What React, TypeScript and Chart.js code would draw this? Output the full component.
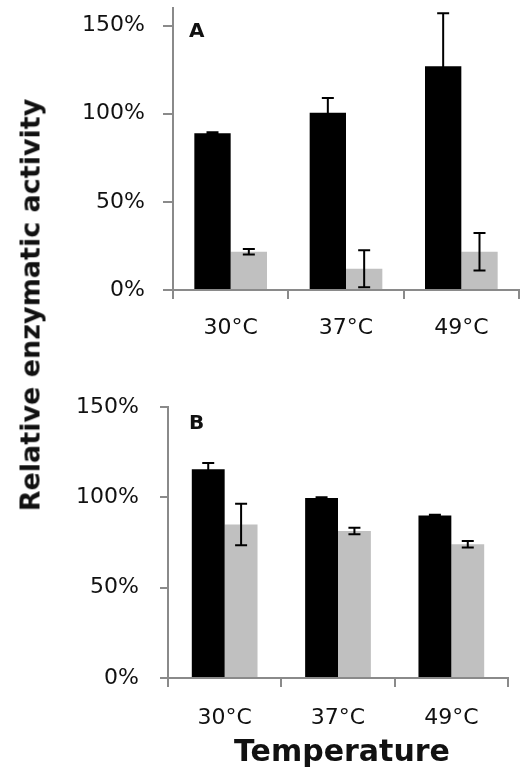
import React, { useEffect, useRef } from "react";
import { Chart, registerables } from "chart.js";
Chart.register(...registerables);

const categories = ["30°C", "37°C", "49°C"];
const tickValues = [0, 50, 100, 150];

const aBlack = [89, 100.5, 127];
const aBlackErr = [0.5, 8.5, 30];
const aGray = [21.7, 12, 21.7];
const aGrayErr = [1.5, 10.5, 10.6];

const bBlack = [115.5, 99.7, 90];
const bBlackErr = [3.5, 0.4, 0.4];
const bGray = [85, 81.4, 74];
const bGrayErr = [11.5, 1.8, 1.8];

const FONT = "'DejaVu Sans', Verdana, sans-serif";
const AXIS = "#8a8a8a";

type PanelProps = {
  letter: string;
  black: number[];
  blackErr: number[];
  gray: number[];
  grayErr: number[];
  yMax: number;
  top: number;
  height: number;
  area: { left: number; right: number; top: number; bottom: number };
  catPct: number;
  yPad: number;
  yTick: number;
  xPad: number;
  letterPos: { x: number; y: number };
};

function Panel(p: PanelProps) {
  const ref = useRef<HTMLCanvasElement>(null);
  useEffect(() => {
    const errs = [p.blackErr, p.grayErr];
    const errorBars = {
      id: "errorBars",
      afterDatasetsDraw(chart: any) {
        const ctx = chart.ctx;
        const ys = chart.scales.y;
        ctx.save();
        ctx.strokeStyle = "#000";
        ctx.lineWidth = 2;
        chart.data.datasets.forEach((ds: any, i: number) => {
          const meta = chart.getDatasetMeta(i);
          meta.data.forEach((el: any, j: number) => {
            const v = ds.data[j];
            const e = errs[i][j];
            const x = el.x;
            const y1 = ys.getPixelForValue(v + e);
            const y2 = ys.getPixelForValue(v - e);
            ctx.beginPath();
            ctx.moveTo(x, y1);
            ctx.lineTo(x, y2);
            ctx.moveTo(x - 6, y1);
            ctx.lineTo(x + 6, y1);
            ctx.moveTo(x - 6, y2);
            ctx.lineTo(x + 6, y2);
            ctx.stroke();
          });
        });
        ctx.restore();
      },
    };
    const letterPlugin = {
      id: "letter",
      afterDraw(chart: any) {
        const ctx = chart.ctx;
        ctx.save();
        ctx.font = `bold 20px ${FONT}`;
        ctx.fillStyle = "#111";
        ctx.textBaseline = "middle";
        ctx.textAlign = "left";
        ctx.fillText(p.letter, p.letterPos.x, p.letterPos.y);
        ctx.restore();
      },
    };
    const W = 520;
    const chart = new Chart(ref.current as HTMLCanvasElement, {
      type: "bar",
      data: {
        labels: categories,
        datasets: [
          { data: p.black, backgroundColor: "#000", borderColor: "#222", borderWidth: 0 },
          { data: p.gray, backgroundColor: "#c0c0c0", borderWidth: 0 },
        ],
      },
      options: {
        animation: false,
        responsive: false,
        maintainAspectRatio: false,
        events: [],
        layout: {
          padding: { left: 0, right: W - p.area.right, top: p.area.top, bottom: 0 },
        },
        plugins: { legend: { display: false }, tooltip: { enabled: false } },
        datasets: { bar: { barPercentage: 1, categoryPercentage: p.catPct } },
        scales: {
          x: {
            grid: { display: true, drawOnChartArea: false, drawTicks: true, tickLength: 9, color: AXIS, lineWidth: 2, offset: true },
            border: { display: true, color: AXIS, width: 2 },
            ticks: { color: "#111", font: { family: FONT, size: 22 }, padding: p.xPad, maxRotation: 0 },
            afterFit: (s: any) => {
              s.height = p.height - p.area.bottom;
              s.paddingLeft = 0;
              s.paddingRight = 0;
            },
          },
          y: {
            min: 0,
            max: p.yMax,
            grid: { display: true, drawOnChartArea: false, drawTicks: true, tickLength: p.yTick, color: AXIS, lineWidth: 2 },
            border: { display: true, color: AXIS, width: 2 },
            ticks: {
              stepSize: 50,
              color: "#111",
              font: { family: FONT, size: 22 },
              padding: p.yPad,
              callback: (v: any) => `${v}%`,
            },
            afterBuildTicks: (s: any) => {
              s.ticks = tickValues.map((v) => ({ value: v }));
            },
            afterFit: (s: any) => {
              s.width = p.area.left;
              s.paddingTop = 0;
              s.paddingBottom = 0;
            },
          },
        },
      },
      plugins: [errorBars, letterPlugin],
    } as any);
    return () => chart.destroy();
  }, []);
  return (
    <canvas
      ref={ref}
      width={520}
      height={p.height}
      style={{ position: "absolute", left: 0, top: p.top, width: 520, height: p.height }}
    />
  );
}

export default function App() {
  return (
    <div style={{ position: "absolute", left: 0, top: 0, width: 520, height: 772, background: "#fff", overflow: "hidden" }}>
      <Panel
        letter="A"
        black={aBlack}
        blackErr={aBlackErr}
        gray={aGray}
        grayErr={aGrayErr}
        yMax={160}
        top={0}
        height={350}
        area={{ left: 173, right: 519, top: 8, bottom: 290 }}
        catPct={0.63}
        yPad={18}
        yTick={10}
        xPad={16}
        letterPos={{ x: 189, y: 32 }}
      />
      <Panel
        letter="B"
        black={bBlack}
        blackErr={bBlackErr}
        gray={bGray}
        grayErr={bGrayErr}
        yMax={150}
        top={390}
        height={345}
        area={{ left: 168, right: 508, top: 17, bottom: 288 }}
        catPct={0.58}
        yPad={21}
        yTick={8}
        xPad={18}
        letterPos={{ x: 189, y: 34 }}
      />
      <div
        style={{
          position: "absolute",
          left: 30,
          top: 305,
          transform: "translate(-50%, -50%) rotate(-90deg)",
          whiteSpace: "nowrap",
          fontFamily: FONT,
          fontWeight: "bold",
          fontSize: 27,
          color: "#111",
        }}
      >
        Relative enzymatic activity
      </div>
      <div
        style={{
          position: "absolute",
          left: 342,
          top: 751,
          transform: "translate(-50%, -50%)",
          whiteSpace: "nowrap",
          fontFamily: FONT,
          fontWeight: "bold",
          fontSize: 30,
          color: "#111",
          lineHeight: 1,
        }}
      >
        Temperature
      </div>
    </div>
  );
}
